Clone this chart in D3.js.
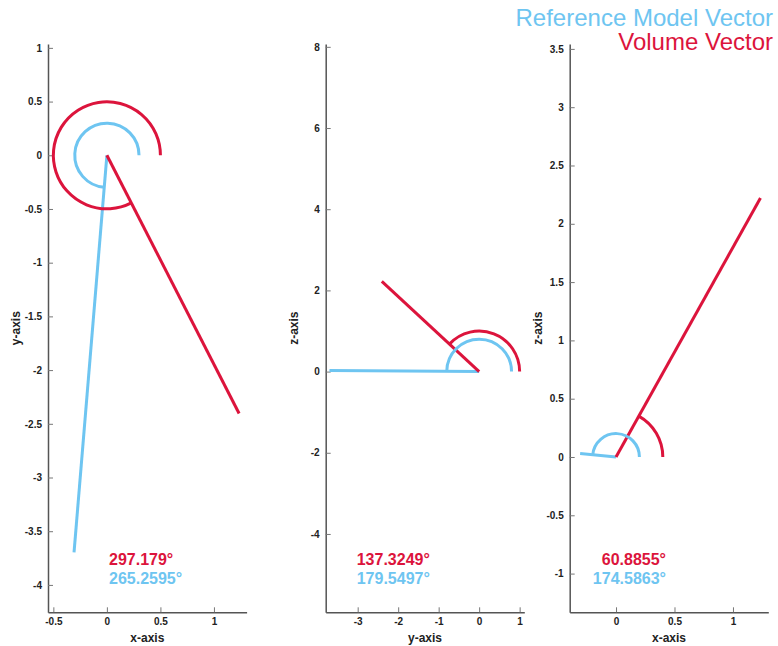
<!DOCTYPE html>
<html>
<head>
<meta charset="utf-8">
<script src="https://cdn.jsdelivr.net/npm/d3@7"></script>
<style>
  body { margin: 0; background: #fff; }
  text { font-family: "Liberation Sans", Arial, sans-serif; }
</style>
</head>
<body>
<div id="container"></div>
<script>
// vectors (x, y, z)
const volumeVector = [1.235, -2.404, 2.221];
const referenceVector = [-0.3068, -3.697, 0.0291];

// one entry per panel
const panelNames = ["xy", "yz", "xz"];
const axisIndex = [[0, 1], [1, 2], [0, 2]];
const xLabels = ["x-axis", "y-axis", "x-axis"];
const yLabels = ["y-axis", "z-axis", "z-axis"];
const xDomains = [[-0.55, 1.305], [-3.79, 1.115], [-0.396, 1.302]];
const yDomains = [[-4.255, 1.036], [-5.93, 8.07], [-1.332, 3.542]];
const xTicks = [[-0.5, 0, 0.5, 1], [-3, -2, -1, 0, 1], [0, 0.5, 1]];
const yTicks = [
    [-4, -3.5, -3, -2.5, -2, -1.5, -1, -0.5, 0, 0.5, 1],
    [-4, -2, 0, 2, 4, 6, 8],
    [-1, -0.5, 0, 0.5, 1, 1.5, 2, 2.5, 3, 3.5]
];
const volumeAngles = [297.179, 137.3249, 60.8855];
const referenceAngles = [265.2595, 179.5497, 174.5863];
const volumeArcRadius = [0.5, 1, 0.4];
const referenceArcRadius = [0.3, 0.8, 0.2];

const red = "#dc143c", blue = "#6ec5f1";

function main() {
    const width = 778, height = 646;
    const svg = d3.select("#container")
        .append("svg")
        .attr("width", width)
        .attr("height", height);

    const lefts = [48, 325.7, 569.7];
    const pw = 198.6, top = 44, ph = 568.3;
    const labelX = [61, 31, 96.3];
    const labelAnchor = ["start", "start", "end"];

    panelNames.forEach((name, i) => {
        const g = svg.append("g")
            .attr("id", name)
            .attr("transform", `translate(${lefts[i]},${top})`);
        const x = d3.scaleLinear().domain(xDomains[i]).range([0, pw]);
        const y = d3.scaleLinear().domain(yDomains[i]).range([ph, 0]);

        const xa = g.append("g")
            .attr("transform", `translate(0,${ph})`)
            .call(d3.axisBottom(x).tickValues(xTicks[i]).tickFormat(d => String(d)).tickSizeInner(-5).tickSizeOuter(0).tickPadding(6));
        const ya = g.append("g")
            .call(d3.axisLeft(y).tickValues(yTicks[i]).tickFormat(d => String(d)).tickSizeInner(-5).tickSizeOuter(0).tickPadding(6));
        [xa, ya].forEach(a => {
            a.select(".domain").attr("stroke", "#555").attr("stroke-width", 1.5);
            a.selectAll(".tick line").attr("stroke", "#777");
            a.selectAll(".tick text")
                .attr("font-family", "'Liberation Sans Narrow', 'Liberation Sans', Arial, sans-serif")
                .attr("font-size", 10)
                .attr("font-weight", "bold")
                .attr("fill", "#222");
        });

        g.append("text")
            .attr("x", pw / 2)
            .attr("y", ph + 30)
            .attr("text-anchor", "middle")
            .attr("font-size", 12)
            .attr("font-weight", "bold")
            .attr("fill", "#222")
            .text(xLabels[i]);
        g.append("text")
            .attr("transform", `translate(-28,${ph / 2}) rotate(-90)`)
            .attr("text-anchor", "middle")
            .attr("font-size", 12)
            .attr("font-weight", "bold")
            .attr("fill", "#222")
            .text(yLabels[i]);

        const [a, b] = axisIndex[i];
        const pxPerUnit = x(1) - x(0);
        const vectors = [
            { v: referenceVector, angle: referenceAngles[i], r: referenceArcRadius[i], color: blue },
            { v: volumeVector, angle: volumeAngles[i], r: volumeArcRadius[i], color: red }
        ];
        vectors.forEach(d => {
            g.append("line")
                .attr("x1", x(0)).attr("y1", y(0))
                .attr("x2", x(d.v[a])).attr("y2", y(d.v[b]))
                .attr("stroke", d.color)
                .attr("stroke-width", 3);
        });
        vectors.slice().reverse().forEach(d => {
            const p = d3.path();
            const r = d.r * pxPerUnit;
            p.moveTo(x(0) + r, y(0));
            p.arc(x(0), y(0), r, 0, -d.angle * Math.PI / 180, true);
            g.append("path")
                .attr("d", p.toString())
                .attr("fill", "none")
                .attr("stroke", d.color)
                .attr("stroke-width", 3);
        });

        g.append("text")
            .attr("x", labelX[i])
            .attr("y", 521)
            .attr("text-anchor", labelAnchor[i])
            .attr("font-size", 16)
            .attr("font-weight", "bold")
            .attr("fill", red)
            .text(volumeAngles[i] + "°");
        g.append("text")
            .attr("x", labelX[i])
            .attr("y", 540)
            .attr("text-anchor", labelAnchor[i])
            .attr("font-size", 16)
            .attr("font-weight", "bold")
            .attr("fill", blue)
            .text(referenceAngles[i] + "°");
    });

    svg.append("text")
        .attr("x", 773)
        .attr("y", 26)
        .attr("text-anchor", "end")
        .attr("font-size", 24)
        .attr("fill", blue)
        .text("Reference Model Vector");
    svg.append("text")
        .attr("x", 773)
        .attr("y", 50)
        .attr("text-anchor", "end")
        .attr("font-size", 24)
        .attr("fill", red)
        .text("Volume Vector");
}
main();
</script>
</body>
</html>
